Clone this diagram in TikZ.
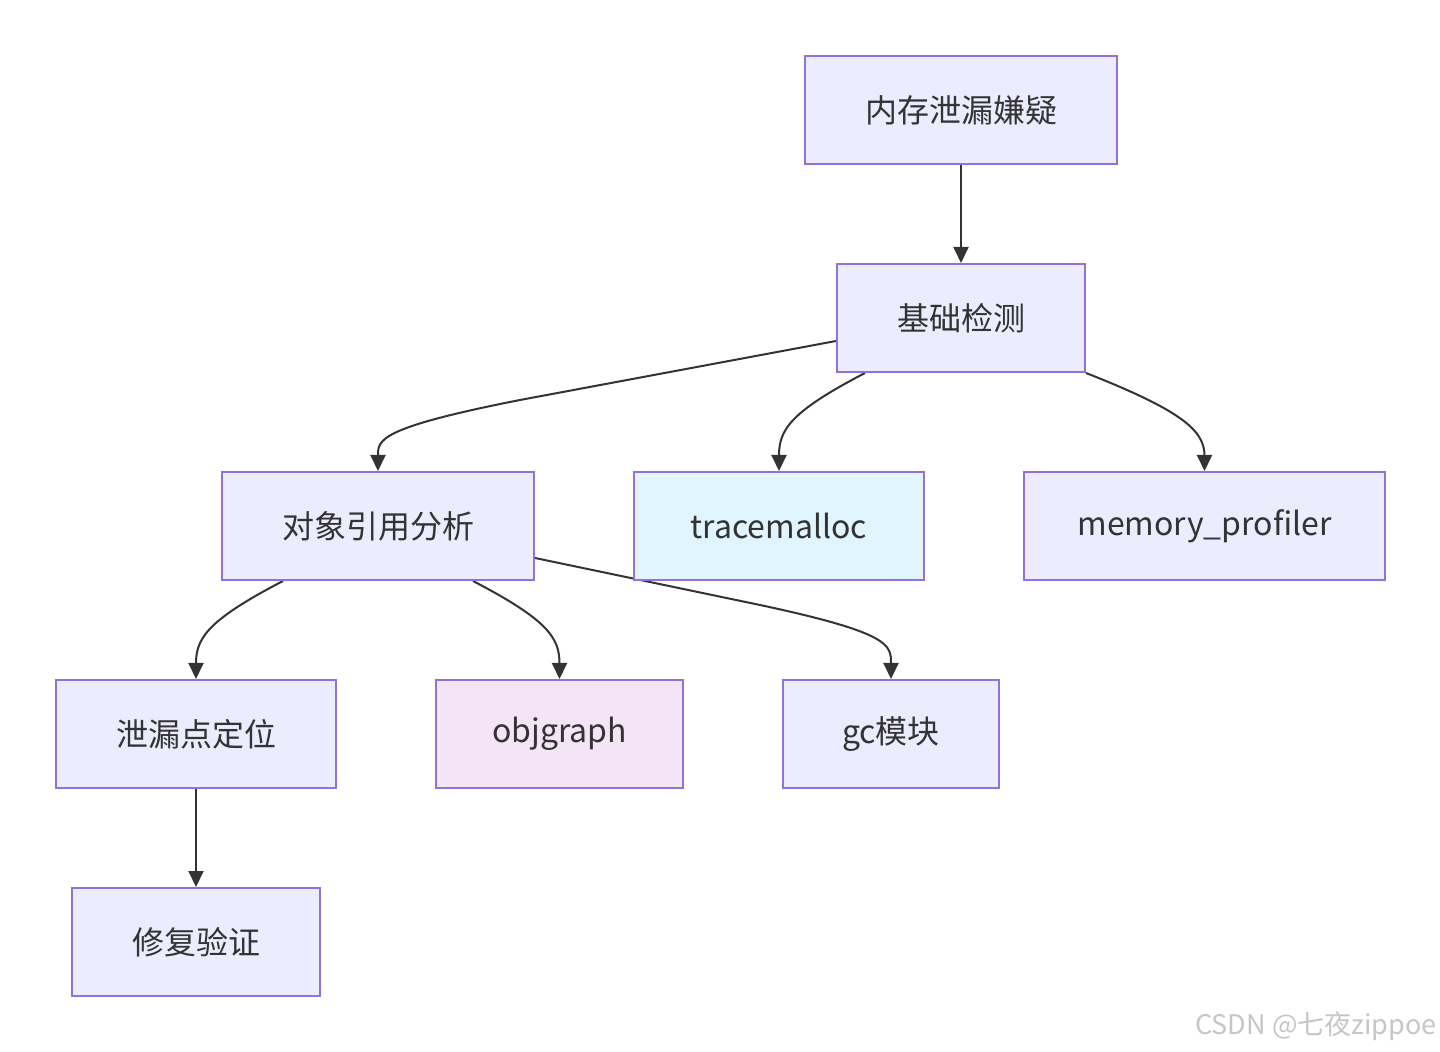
\documentclass[tikz,border=0pt]{standalone}
\usepackage{fontspec}
\setmainfont{Noto Sans CJK SC}
\usetikzlibrary{arrows.meta,calc,backgrounds}
\definecolor{boxfill}{HTML}{ECECFF}
\definecolor{boxline}{HTML}{9370DB}
\definecolor{ink}{HTML}{333333}
\definecolor{tracefill}{HTML}{E1F5FE}
\definecolor{objfill}{HTML}{F3E5F5}
\begin{document}
\begin{tikzpicture}[
    x=0.5pt, y=-0.5pt,
    box/.style={draw=boxline,fill=boxfill,line width=1pt,minimum height=54pt,inner sep=0pt,text=ink,font=\fontsize{16}{19}\selectfont},
    link/.style={draw=ink,line width=1pt,-{Triangle[length=8pt,width=7.5pt]}},
  ]
  \useasboundingbox (0,0) rectangle (1440,1052);
  \node[box,minimum width=156pt] (susp) at (961,110) {内存泄漏嫌疑};
  \node[box,minimum width=124pt] (basic) at (961,318) {基础检测};
  \node[box,minimum width=156pt] (ref) at (378,526) {对象引用分析};
  \node[box,minimum width=145pt,fill=tracefill] (trace) at (779,526) {tracemalloc};
  \node[box,minimum width=180.5pt] (memprof) at (1204.5,526) {memory\_profiler};
  \node[box,minimum width=140pt] (locate) at (196,734) {泄漏点定位};
  \node[box,minimum width=123.5pt,fill=objfill] (objg) at (559.5,734) {objgraph};
  \node[box,minimum width=108pt] (gcmod) at (891,734) {gc模块};
  \node[box,minimum width=124pt] (fix) at (196,942) {修复验证};
  \node[text=gray!45,anchor=east,inner sep=0pt,font=\fontsize{13.5}{16}\selectfont] (mark) at (1437,1026) {CSDN @七夜zippoe};
  \begin{scope}[on background layer]
    \draw[link] (susp) -- (basic);
    \draw[link] ($(basic.west)+(0,23)$) -- (520,400) .. controls (378,428) and (378,440) .. (ref.north);
    \draw[link] ($(basic.south west)+(29,0)$) .. controls (790,412) and (779,430) .. (trace.north);
    \draw[link] (basic.south east) .. controls (1180,410) and (1204.5,430) .. (memprof.north);
    \draw[link] ($(ref.south west)+(62,0)$) .. controls (208,620) and (196,638) .. (locate.north);
    \draw[link] ($(ref.south east)+(-62,0)$) .. controls (548,620) and (559.5,638) .. (objg.north);
    \draw[link] ($(ref.east)+(0,32)$) -- (760,605) .. controls (891,633) and (891,645) .. (gcmod.north);
    \draw[link] (locate) -- (fix);
  \end{scope}
\end{tikzpicture}
\end{document}
